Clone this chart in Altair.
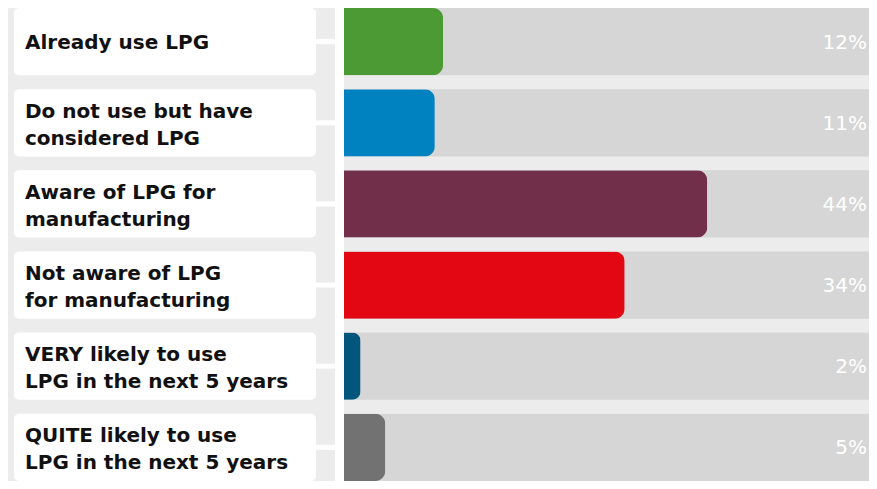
import altair as alt
import pandas as pd

categories = [
    "Already use LPG",
    "Do not use but have considered LPG",
    "Aware of LPG for manufacturing",
    "Not aware of LPG for manufacturing",
    "VERY likely to use LPG in the next 5 years",
    "QUITE likely to use LPG in the next 5 years",
]
labels = [
    "Already use LPG",
    "Do not use but have\nconsidered LPG",
    "Aware of LPG for\nmanufacturing",
    "Not aware of LPG\nfor manufacturing",
    "VERY likely to use\nLPG in the next 5 years",
    "QUITE likely to use\nLPG in the next 5 years",
]
values = [12, 11, 44, 34, 2, 5]
pct_labels = ["12%", "11%", "44%", "34%", "2%", "5%"]
colors = ["#4b9a34", "#0081c0", "#722f4a", "#e30613", "#02557b", "#727272"]

XMAX = 63.6

df = pd.DataFrame({"cat": categories, "label": labels, "value": values, "pct": pct_labels})
df["lines"] = df["label"].str.count("\n") + 1

W, H = 861, 473

yenc = alt.Y("cat:N", sort=categories, axis=None,
             scale=alt.Scale(domain=categories, paddingInner=0.17, paddingOuter=0))
xscale = alt.Scale(domain=[0, XMAX], range=[336, W], nice=False, zero=False)

base = alt.Chart(df)

boxes = base.mark_rect(color="white", cornerRadius=5).encode(
    y=yenc, x=alt.value(6), x2=alt.value(308)
)
strip = base.mark_rect(color="white").encode(
    x=alt.value(327), x2=alt.value(336), y=alt.value(0), y2=alt.value(H)
)
connectors = base.mark_rule(color="white", strokeWidth=5).encode(
    y=yenc, x=alt.value(306), x2=alt.value(328)
)
track = base.mark_bar(color="#d6d6d6").encode(
    y=yenc, x=alt.datum(0, scale=xscale, axis=None), x2=alt.datum(XMAX)
)
bars = base.mark_bar(cornerRadiusEnd=10).encode(
    y=yenc,
    x=alt.X("value:Q", scale=xscale, axis=None),
    color=alt.Color("cat:N", scale=alt.Scale(domain=categories, range=colors), legend=None),
)
pct = base.mark_text(align="right", baseline="middle", color="white",
                     font="DejaVu Sans", fontSize=20, dx=-2, dy=1).encode(
    y=yenc, x=alt.datum(XMAX), text="pct:N"
)
text_style = dict(align="left", baseline="middle", color="#111111",
                  font="DejaVu Sans", fontSize=20, fontWeight="bold",
                  lineBreak="\n", lineHeight=27)
lab1 = base.transform_filter("datum.lines == 1").mark_text(dy=1, **text_style).encode(
    y=yenc, x=alt.value(17), text="label:N"
)
lab2 = base.transform_filter("datum.lines == 2").mark_text(dy=-11, **text_style).encode(
    y=yenc, x=alt.value(17), text="label:N"
)

chart = alt.layer(track, bars, strip, boxes, connectors, pct, lab1, lab2).properties(
    width=W, height=H, padding=0, background="#ececec"
).configure_view(stroke=None)

chart.save("out.html", embed_options={"renderer": "svg", "actions": False})
